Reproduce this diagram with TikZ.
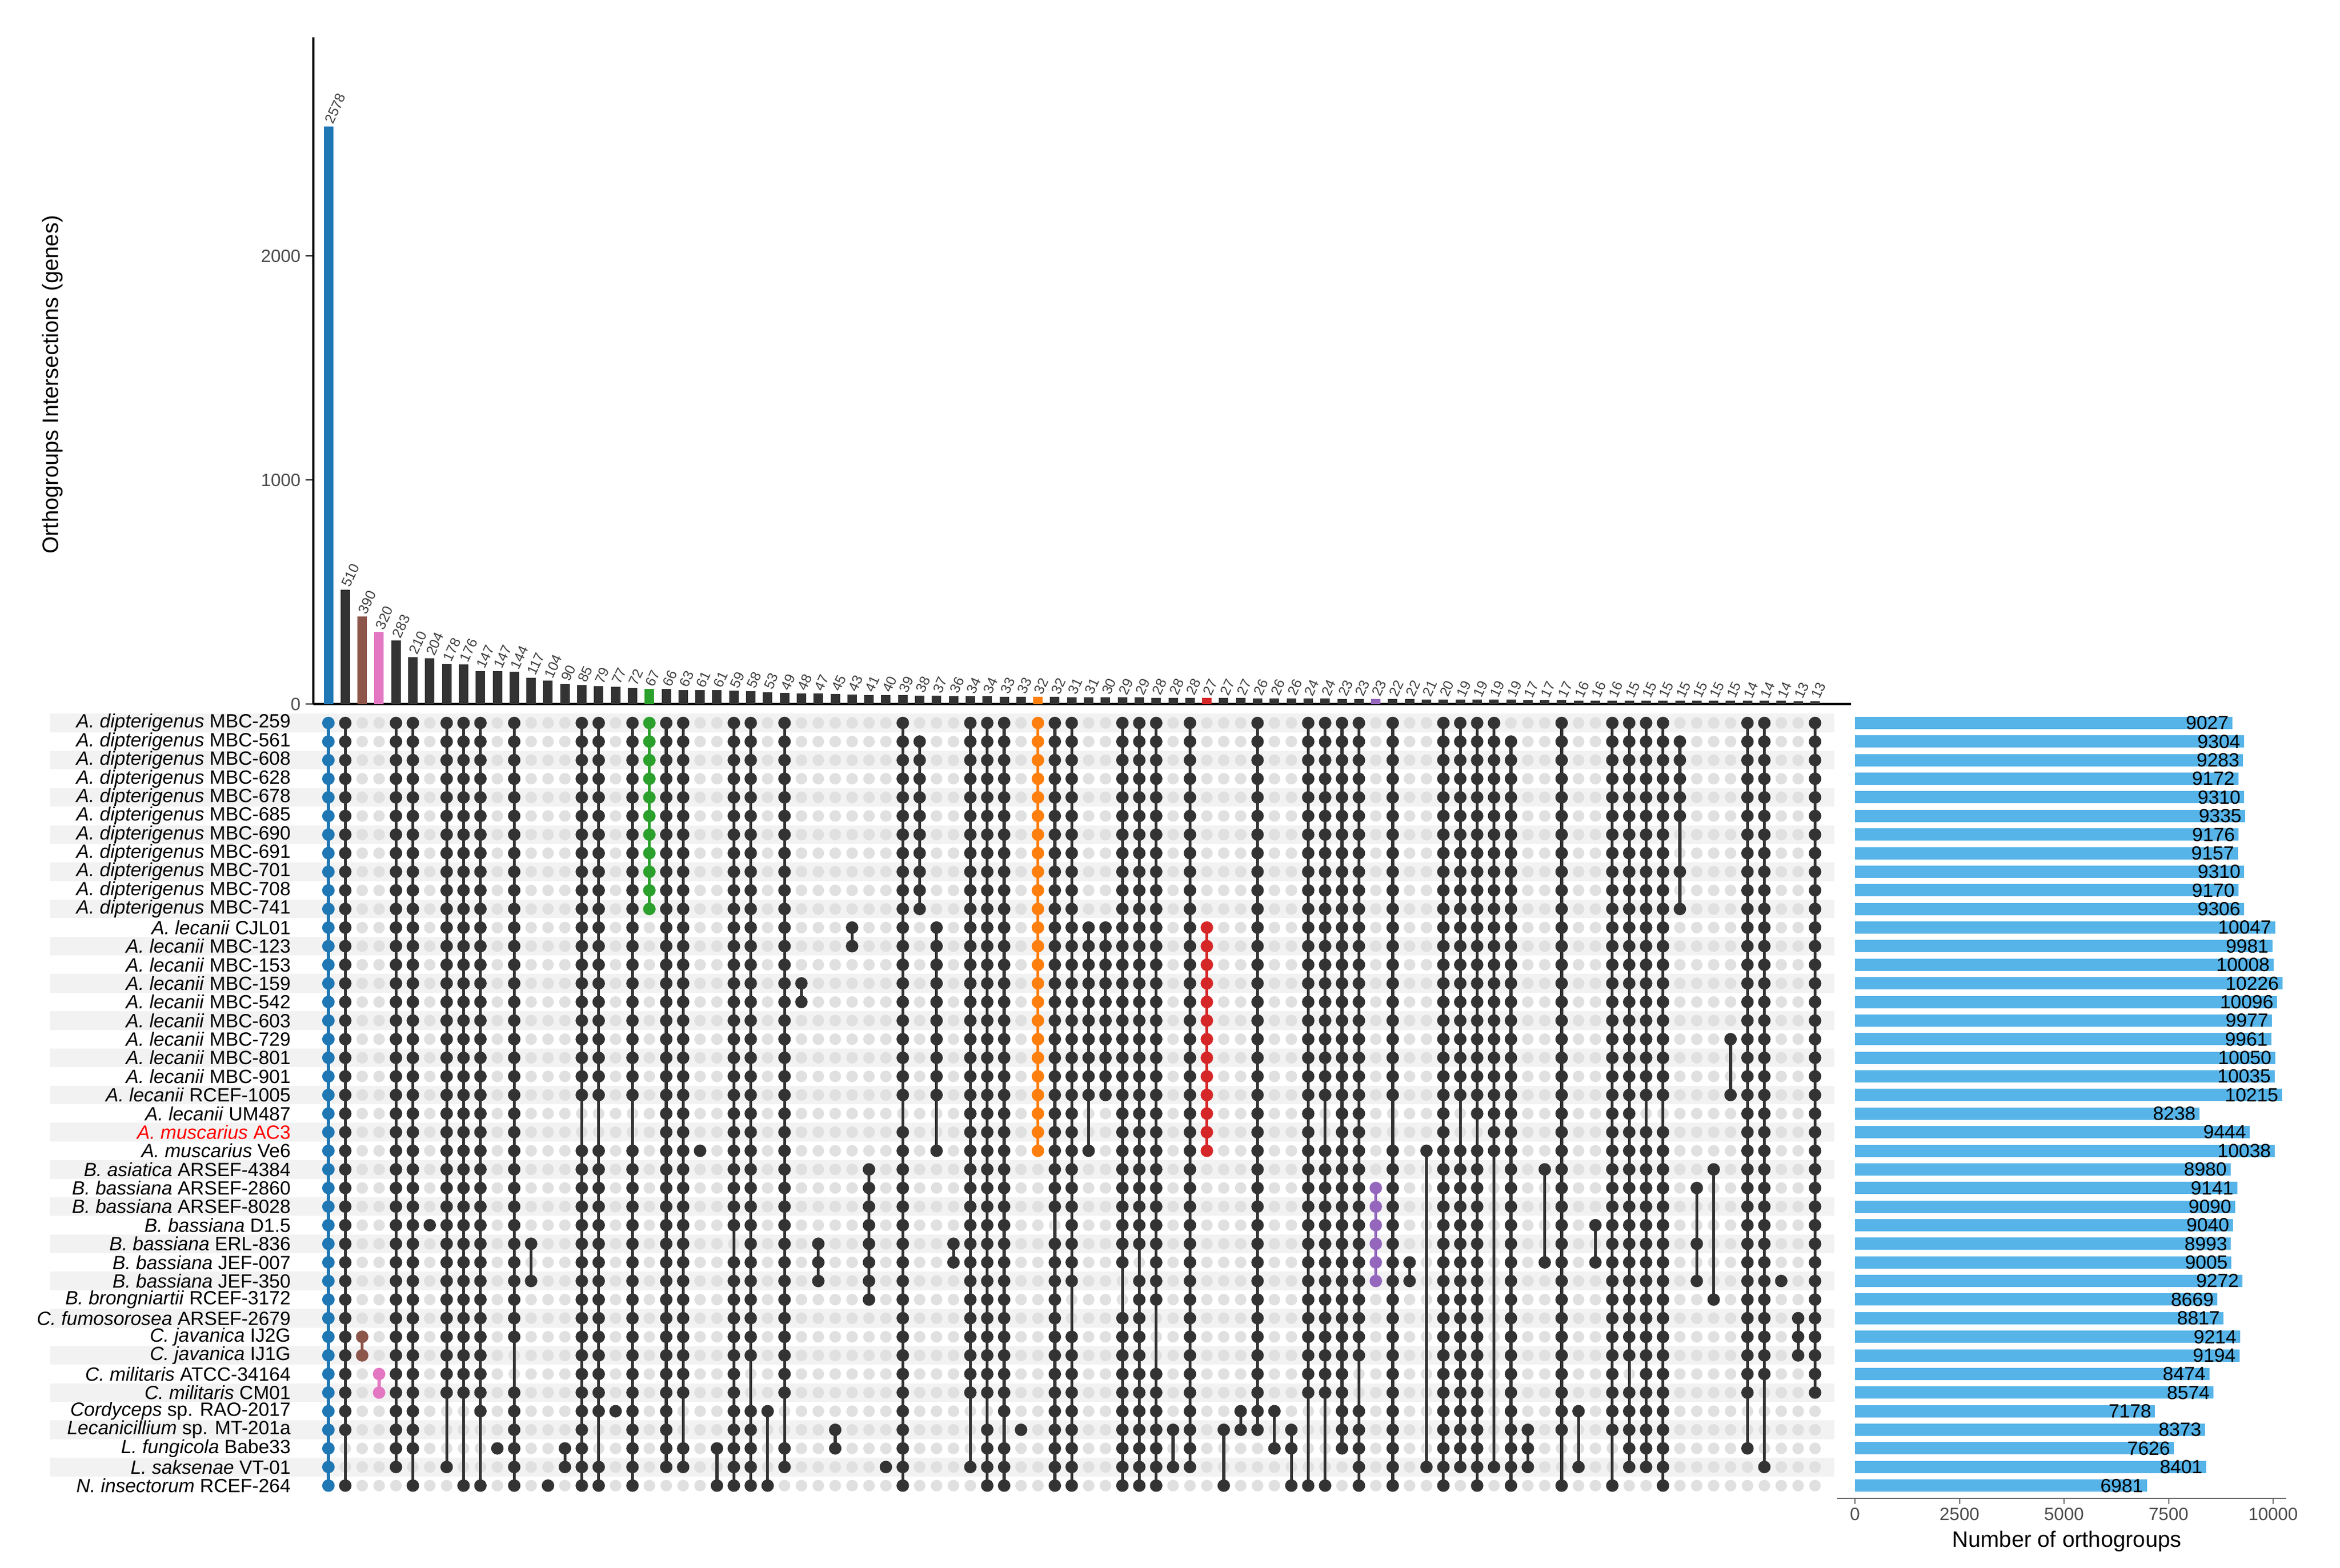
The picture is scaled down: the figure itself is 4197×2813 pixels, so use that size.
\documentclass[tikz,border=0pt]{standalone}
\usepackage{fontspec}
\setmainfont{Liberation Sans}
\makeatletter
\newcommand\skipornot[3]{\edef\tmp@in{\noexpand\in@{,#1,}{,#2,}}\tmp@in\ifin@\else#3\fi}
\makeatother
\definecolor{cblue}{HTML}{1F77B4}
\definecolor{cbrown}{HTML}{8C564B}
\definecolor{cpink}{HTML}{E377C2}
\definecolor{cgreen}{HTML}{2CA02C}
\definecolor{corange}{HTML}{FF7F0E}
\definecolor{cred}{HTML}{D62728}
\definecolor{cpurple}{HTML}{9467BD}
\definecolor{cdark}{HTML}{333333}
\definecolor{csky}{HTML}{56B4E9}
\tikzset{
  barlab/.style={font=\fontsize{6.3}{6}\selectfont,text=black!75,inner sep=0pt},
  rowlab/.style={font=\fontsize{8.6}{9}\selectfont,anchor=east,inner sep=0pt},
  ticklab/.style={font=\fontsize{8}{9}\selectfont,text=black!70,inner sep=0pt},
  axtitle/.style={font=\fontsize{10}{11}\selectfont,inner sep=0pt},
}
\begin{document}
\begin{tikzpicture}[x=0.25pt,y=-0.25pt]
\useasboundingbox (0,0) rectangle (4197,2813);
% stripes
\foreach \r in {1,3,...,41}{
  \fill[black!5] (90,{1297+(\r-1)*33.37-16.7}) rectangle (3290,{1297+(\r-1)*33.37+16.7});
}
% empty dots
\foreach \c in {1,...,89}{
  \foreach \r in {1,...,42}{
    \fill[black!12] ({589+(\c-1)*30.3},{1297+(\r-1)*33.37}) circle[radius=2.6pt];
  }
}
% y axis of top chart
\draw[line width=0.8pt] (562,67) -- (562,1263);
\draw[line width=1.2pt] (562,1263) -- (3320,1263);
\foreach \t/\lab in {0/0,1000/1000,2000/2000}{
  \draw[line width=0.6pt] (562,{1263-\t*0.402}) -- (548,{1263-\t*0.402});
  \node[ticklab,anchor=east] at (540,{1263-\t*0.402}) {\lab};
}
\node[axtitle,rotate=90] (ytitle) at (94,690) {Orthogroups Intersections (genes)};
% columns: index/colour/first/last/missing/value
\foreach \c/\cc/\a/\b/\ex/\v in {
1/cblue/1/42/0/2578, 2/cdark/1/42/{40,41}/510, 3/cbrown/34/35/0/390, 4/cpink/36/37/0/320,
5/cdark/1/41/0/283, 6/cdark/1/42/{41}/210, 7/cdark/28/28/0/204, 8/cdark/1/41/{38,39,40}/178,
9/cdark/1/42/{38,39,40,41}/176, 10/cdark/1/42/{39,40,41}/147, 11/cdark/40/40/0/147, 12/cdark/1/42/{35,36}/144,
13/cdark/29/31/{30}/117, 14/cdark/42/42/0/104, 15/cdark/40/41/0/90, 16/cdark/1/42/{22,23}/85,
17/cdark/1/42/{22,23,39,40}/79, 18/cdark/38/38/0/77, 19/cdark/1/42/{22,23}/72, 20/cgreen/1/11/0/67,
21/cdark/1/41/0/66, 22/cdark/1/41/{38,39}/63, 23/cdark/24/24/0/61, 24/cdark/40/42/{41}/61,
25/cdark/1/42/{29}/59, 26/cdark/1/42/{36,37}/58, 27/cdark/38/42/{39,40,41}/53, 28/cdark/1/41/{38,39}/49,
29/cdark/15/16/0/48, 30/cdark/29/31/0/47, 31/cdark/39/40/0/45, 32/cdark/12/13/0/43,
33/cdark/25/32/0/41, 34/cdark/41/41/0/40, 35/cdark/1/42/{22}/39, 36/cdark/2/11/0/38,
37/cdark/12/24/{22,23}/37, 38/cdark/29/30/0/36, 39/cdark/1/41/{38,39,40}/34, 40/cdark/1/42/{38}/34,
41/cdark/1/42/{39}/33, 42/cdark/39/39/0/33, 43/corange/1/24/0/32, 44/cdark/1/42/{28}/32,
45/cdark/1/42/{32,33}/31, 46/cdark/12/24/{22,23}/31, 47/cdark/12/21/0/30, 48/cdark/1/42/{31,32}/29,
49/cdark/1/42/{30}/29, 50/cdark/1/42/{33,34,35}/28, 51/cdark/39/41/{40}/28, 52/cdark/1/41/0/28,
53/cred/12/24/0/27, 54/cdark/39/42/{40,41}/27, 55/cdark/38/39/0/27, 56/cdark/1/39/0/26,
57/cdark/38/40/{39}/26, 58/cdark/39/42/{41}/26, 59/cdark/1/42/{38,39,40,41}/24, 60/cdark/1/42/{22,23,38,39,40,41}/24,
61/cdark/1/40/0/23, 62/cdark/1/42/{36,37}/23, 63/cpurple/26/31/0/23, 64/cdark/1/42/{22,23}/22,
65/cdark/30/31/0/22, 66/cdark/24/41/{25,26,27,28,29,30,31,32,33,34,35,36,37,38,39,40}/21, 67/cdark/1/42/0/20, 68/cdark/1/41/{22,23}/19,
69/cdark/1/42/{23}/19, 70/cdark/1/41/{25,26,27,28,29,30,31,32,33,34,35,36,37,38,39,40}/19, 71/cdark/2/42/0/19, 72/cdark/39/41/0/17,
73/cdark/25/30/{26,27,28,29}/17, 74/cdark/1/42/{40,41}/17, 75/cdark/38/41/{39,40}/16, 76/cdark/28/30/{29}/16,
77/cdark/1/42/{40,41}/16, 78/cdark/1/41/{36}/15, 79/cdark/1/41/{22}/15, 80/cdark/1/42/{22}/15,
81/cdark/2/11/{7,8,10}/15, 82/cdark/26/31/{27,28,30}/15, 83/cdark/25/32/{26,27,28,29,30,31}/15, 84/cdark/18/21/{19,20}/15,
85/cdark/1/40/{38,39}/14, 86/cdark/1/41/{37,38,39,40}/14, 87/cdark/31/31/0/14, 88/cdark/33/35/0/13,
89/cdark/1/37/0/13}{
  \pgfmathsetmacro\xx{589+(\c-1)*30.3}
  \pgfmathsetmacro\hh{\v*0.402}
  \fill[\cc] (\xx-8.5,1263) rectangle (\xx+8.5,1263-\hh);
  \node[barlab,anchor=west,rotate=65] at (\xx,1263-\hh-6) {\v};
  \draw[\cc,line width=1.3pt] (\xx,{1297+(\a-1)*33.37}) -- (\xx,{1297+(\b-1)*33.37});
  \foreach \r in {\a,...,\b}{
    \skipornot{\r}{\ex}{\fill[\cc] (\xx,{1297+(\r-1)*33.37}) circle[radius=2.8pt];}
  }
}
% row labels and set-size bars
\foreach \r/\txt/\n in {
1/{\textit{A. dipterigenus} MBC-259}/9027, 2/{\textit{A. dipterigenus} MBC-561}/9304,
3/{\textit{A. dipterigenus} MBC-608}/9283, 4/{\textit{A. dipterigenus} MBC-628}/9172,
5/{\textit{A. dipterigenus} MBC-678}/9310, 6/{\textit{A. dipterigenus} MBC-685}/9335,
7/{\textit{A. dipterigenus} MBC-690}/9176, 8/{\textit{A. dipterigenus} MBC-691}/9157,
9/{\textit{A. dipterigenus} MBC-701}/9310, 10/{\textit{A. dipterigenus} MBC-708}/9170,
11/{\textit{A. dipterigenus} MBC-741}/9306, 12/{\textit{A. lecanii} CJL01}/10047,
13/{\textit{A. lecanii} MBC-123}/9981, 14/{\textit{A. lecanii} MBC-153}/10008,
15/{\textit{A. lecanii} MBC-159}/10226, 16/{\textit{A. lecanii} MBC-542}/10096,
17/{\textit{A. lecanii} MBC-603}/9977, 18/{\textit{A. lecanii} MBC-729}/9961,
19/{\textit{A. lecanii} MBC-801}/10050, 20/{\textit{A. lecanii} MBC-901}/10035,
21/{\textit{A. lecanii} RCEF-1005}/10215, 22/{\textit{A. lecanii} UM487}/8238,
23/{\textcolor{red}{\textit{A. muscarius} AC3}}/9444, 24/{\textit{A. muscarius} Ve6}/10038,
25/{\textit{B. asiatica} ARSEF-4384}/8980, 26/{\textit{B. bassiana} ARSEF-2860}/9141,
27/{\textit{B. bassiana} ARSEF-8028}/9090, 28/{\textit{B. bassiana} D1.5}/9040,
29/{\textit{B. bassiana} ERL-836}/8993, 30/{\textit{B. bassiana} JEF-007}/9005,
31/{\textit{B. bassiana} JEF-350}/9272, 32/{\textit{B. brongniartii} RCEF-3172}/8669,
33/{\textit{C. fumosorosea} ARSEF-2679}/8817, 34/{\textit{C. javanica} IJ2G}/9214,
35/{\textit{C. javanica} IJ1G}/9194, 36/{\textit{C. militaris} ATCC-34164}/8474,
37/{\textit{C. militaris} CM01}/8574, 38/{\textit{Cordyceps} sp. RAO-2017}/7178,
39/{\textit{Lecanicillium} sp. MT-201a}/8373, 40/{\textit{L. fungicola} Babe33}/7626,
41/{\textit{L. saksenae} VT-01}/8401, 42/{\textit{N. insectorum} RCEF-264}/6981}{
  \pgfmathsetmacro\yy{1297+(\r-1)*33.37}
  \node[rowlab] (lab\r) at (522,\yy) {\txt};
  \fill[csky] (3327,\yy-11) rectangle ({3327+\n*0.075},\yy+11);
  \node[rowlab] (num\r) at ({3327+\n*0.075-6},\yy) {\n};
}
% bottom axis of set-size chart
\draw[line width=0.6pt,black!60] (3295,2688) -- (4100,2688);
\foreach \t in {0,2500,5000,7500,10000}{
  \draw[line width=0.5pt,black!60] ({3327+\t*0.075},2688) -- ({3327+\t*0.075},2698);
  \node[ticklab,anchor=north] at ({3327+\t*0.075},2704) {\t};
}
\node[axtitle] (xtitle) at (3707,2765) {Number of orthogroups};
\end{tikzpicture}
\end{document}
